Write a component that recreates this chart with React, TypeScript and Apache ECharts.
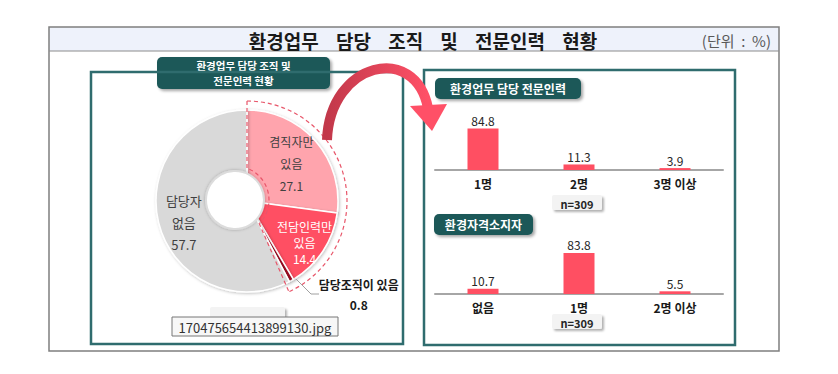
import React, { useEffect, useRef } from 'react';
import * as echarts from 'echarts';

const titleText = '환경업무    담당    조직    및    전문인력    현황';
const unitText = '(단위  :  %)';
const pieTitleLines = ['환경업무 담당 조직 및', '전문인력 현황'];
const pieNames = ['겸직자만\n있음', '전담인력만\n있음', '담당조직이 있음', '담당자\n없음'];
const pieValues = [27.1, 14.4, 0.8, 57.7];
const pieColors = ['#ffa4ad', '#ff5063', '#9e0b23', '#d9d9d9'];

const staffTitle = '환경업무 담당 전문인력';
const staffCats = ['1명', '2명', '3명 이상'];
const staffVals = [84.8, 11.3, 3.9];

const certTitle = '환경자격소지자';
const certCats = ['없음', '1명', '2명 이상'];
const certVals = [10.7, 83.8, 5.5];

const sampleText = 'n=309';
const FONT = '"Noto Sans CJK KR", "Noto Sans", sans-serif';

const PIE_C = [247, 201];

const labelStyles = [
  { color: '#404040', fontSize: 12, lineHeight: 22, offset: [-3, 4] },
  { color: '#ffffff', fontSize: 12, lineHeight: 16, offset: [5, 7] },
  { color: '#1a1a1a', fontSize: 12, lineHeight: 20, offset: [81, 38], fontWeight: 'bold' },
  { color: '#404040', fontSize: 13, lineHeight: 22, offset: [-2, 6] },
];

function tealBox(x: number, y: number, w: number, h: number, lines: string[], fs: number, lh: number) {
  const n = lines.length;
  const top = y + h / 2 - ((n - 1) * lh) / 2;
  return {
    type: 'group',
    z: 15,
    children: [
      {
        type: 'rect',
        shape: { x, y, width: w, height: h, r: 5 },
        style: {
          fill: '#1d5859',
          shadowBlur: 3,
          shadowOffsetX: 2,
          shadowOffsetY: 2,
          shadowColor: 'rgba(0,0,0,0.35)',
        },
      },
      ...lines.map((t, i) => ({
        type: 'text',
        x: x + w / 2,
        y: top + i * lh,
        style: {
          text: t,
          fill: '#ffffff',
          font: `bold ${fs}px ${FONT}`,
          align: 'center',
          verticalAlign: 'middle',
        },
      })),
    ],
  };
}

function nBox(x: number, y: number, w: number, h: number) {
  return {
    type: 'group',
    z: 15,
    children: [
      {
        type: 'rect',
        shape: { x, y, width: w, height: h, r: 2 },
        style: {
          fill: '#f3f3f3',
          shadowBlur: 2,
          shadowOffsetX: 2,
          shadowOffsetY: 2,
          shadowColor: 'rgba(0,0,0,0.3)',
        },
      },
      {
        type: 'text',
        x: x + w / 2,
        y: y + h / 2 + 1,
        style: {
          text: sampleText,
          fill: '#262626',
          font: `bold 11px ${FONT}`,
          align: 'center',
          verticalAlign: 'middle',
        },
      },
    ],
  };
}

function barSeries(idx: number, vals: number[]) {
  return {
    type: 'bar',
    xAxisIndex: idx,
    yAxisIndex: idx,
    data: vals,
    barWidth: 31,
    itemStyle: { color: '#ff4f62' },
    label: {
      show: true,
      position: 'top',
      distance: 2,
      color: '#262626',
      fontSize: 12,
      fontFamily: FONT,
    },
    silent: true,
  };
}

function xAxis(idx: number, cats: string[]) {
  return {
    type: 'category',
    gridIndex: idx,
    data: cats,
    axisLine: { lineStyle: { color: '#a6a6a6', width: 2 } },
    axisTick: { show: false },
    axisLabel: {
      color: '#1a1a1a',
      fontSize: 12,
      fontWeight: 'bold',
      fontFamily: FONT,
      margin: 7,
    },
  };
}

function yAxis(idx: number) {
  return { type: 'value', gridIndex: idx, min: 0, max: 100, show: false };
}

const deg = (d: number) => (d * Math.PI) / 180;
const dash = { stroke: '#e8566a', lineWidth: 1.2, lineDash: [4, 3], fill: 'none' };

export default function App() {
  const ref = useRef<HTMLDivElement>(null);
  useEffect(() => {
    if (!ref.current) return;
    const chart = echarts.init(ref.current, null, { renderer: 'svg' });
    const pieData = pieValues.map((v, i) => ({
      name: pieNames[i],
      value: v,
      itemStyle: { color: pieColors[i] },
    }));
    const labelData = pieValues.map((v, i) => ({
      name: pieNames[i],
      value: v,
      label: {
        show: true,
        position: 'inside',
        formatter: '{b}\n{c}',
        fontFamily: FONT,
        ...labelStyles[i],
      },
    }));

    const option: any = {
      animation: false,
      backgroundColor: '#ffffff',
      textStyle: { fontFamily: FONT },
      grid: [
        { left: 435, top: 121, width: 288, height: 49 },
        { left: 435, top: 245, width: 288, height: 49 },
      ],
      xAxis: [xAxis(0, staffCats), xAxis(1, certCats)],
      yAxis: [yAxis(0), yAxis(1)],
      series: [
        barSeries(0, staffVals),
        barSeries(1, certVals),
        {
          type: 'pie',
          center: PIE_C,
          radius: [0, 91],
          startAngle: 90,
          clockwise: true,
          silent: true,
          label: { show: false },
          labelLine: { show: false },
          itemStyle: {
            borderColor: '#ffffff',
            borderWidth: 1.5,
            shadowBlur: 3,
            shadowColor: 'rgba(0,0,0,0.25)',
            shadowOffsetX: 1,
            shadowOffsetY: 1,
          },
          data: pieData,
          z: 2,
        },
        {
          type: 'pie',
          center: PIE_C,
          radius: [29, 91],
          startAngle: 90,
          clockwise: true,
          silent: true,
          avoidLabelOverlap: false,
          labelLine: { show: false },
          itemStyle: { color: 'rgba(0,0,0,0)', borderWidth: 0 },
          data: labelData,
          z: 20,
        },
      ],
      graphic: [
        {
          type: 'rect',
          z: 0,
          shape: { x: 49, y: 27, width: 730, height: 24 },
          style: { fill: '#eef2fb', stroke: 'none' },
        },
        {
          type: 'rect',
          z: 1,
          shape: { x: 49, y: 27, width: 730, height: 324 },
          style: { fill: 'none', stroke: '#7f7f7f', lineWidth: 1.5 },
        },
        {
          type: 'line',
          z: 1,
          shape: { x1: 49, y1: 51, x2: 779, y2: 51 },
          style: { stroke: '#8c8c8c', lineWidth: 1 },
        },
        {
          type: 'text',
          z: 2,
          x: 423,
          y: 40,
          style: {
            text: titleText,
            fill: '#1a1a1a',
            font: `bold 19px ${FONT}`,
            align: 'center',
            verticalAlign: 'middle',
          },
        },
        {
          type: 'text',
          z: 2,
          x: 771,
          y: 40,
          style: {
            text: unitText,
            fill: '#595959',
            font: `15px ${FONT}`,
            align: 'right',
            verticalAlign: 'middle',
          },
        },
        {
          type: 'rect',
          z: 1,
          shape: { x: 91, y: 72, width: 312, height: 272 },
          style: { fill: 'none', stroke: '#2f6c6e', lineWidth: 2.5 },
        },
        {
          type: 'rect',
          z: 1,
          shape: { x: 424, y: 70, width: 311, height: 275 },
          style: { fill: 'none', stroke: '#2f6c6e', lineWidth: 2.5 },
        },
        tealBox(157, 57, 173, 32, pieTitleLines, 10.5, 15.5),
        tealBox(435, 78, 146, 21, [staffTitle], 12, 14),
        tealBox(434, 214, 99, 21, [certTitle], 12, 14),
        nBox(552, 195, 50, 15),
        nBox(552, 314, 50, 15),
        {
          type: 'circle',
          z: 10,
          shape: { cx: 235, cy: 200, r: 29 },
          style: {
            fill: '#ffffff',
            stroke: '#dcdcdc',
            lineWidth: 2,
            shadowBlur: 3,
            shadowColor: 'rgba(0,0,0,0.25)',
          },
        },
        {
          type: 'arc',
          z: 12,
          shape: { cx: PIE_C[0], cy: PIE_C[1], r: 100, startAngle: deg(-90), endAngle: deg(65), clockwise: true },
          style: dash,
        },
        {
          type: 'arc',
          z: 12,
          shape: { cx: 235, cy: 200, r: 34, startAngle: deg(-65), endAngle: deg(43), clockwise: true },
          style: dash,
        },
        {
          type: 'polyline',
          z: 12,
          shape: { points: [[247, 101], [247, 169]] },
          style: dash,
        },
        {
          type: 'polyline',
          z: 12,
          shape: { points: [[259, 223], [289, 292]] },
          style: dash,
        },
        {
          type: 'polyline',
          z: 12,
          shape: { points: [[296, 279], [311, 294], [319, 294]] },
          style: { stroke: '#a0a0a0', lineWidth: 1, fill: 'none' },
        },
        {
          type: 'bezierCurve',
          z: 25,
          shape: { x1: 327, y1: 140, cpx1: 330, cpy1: 62, cpx2: 415, cpy2: 42, x2: 428, y2: 108 },
          style: {
            stroke: new echarts.graphic.LinearGradient(0, 0, 1, 0, [
              { offset: 0, color: '#c2384a' },
              { offset: 1, color: '#ff5067' },
            ]),
            lineWidth: 10,
            fill: 'none',
          },
        },
        {
          type: 'polygon',
          z: 26,
          shape: { points: [[410, 106], [447, 104], [432, 131]] },
          style: { fill: '#ff5067' },
        },
        {
          type: 'rect',
          z: 28,
          shape: { x: 210, y: 307, width: 75, height: 16, r: 2 },
          style: {
            fill: '#f3f3f3',
            shadowBlur: 2,
            shadowOffsetX: 2,
            shadowOffsetY: 2,
            shadowColor: 'rgba(0,0,0,0.3)',
          },
        },
        {
          type: 'rect',
          z: 30,
          shape: { x: 172, y: 317, width: 166, height: 19 },
          style: { fill: '#f7f7f7', stroke: '#767676', lineWidth: 1 },
        },
        {
          type: 'text',
          z: 31,
          x: 255,
          y: 327,
          style: {
            text: '170475654413899130.jpg',
            fill: '#333333',
            font: `13px ${FONT}`,
            align: 'center',
            verticalAlign: 'middle',
          },
        },
      ],
    };
    chart.setOption(option);
    return () => chart.dispose();
  }, []);
  return (
    <div
      ref={ref}
      style={{ position: 'fixed', left: 0, top: 0, width: 838, height: 374 }}
    />
  );
}
